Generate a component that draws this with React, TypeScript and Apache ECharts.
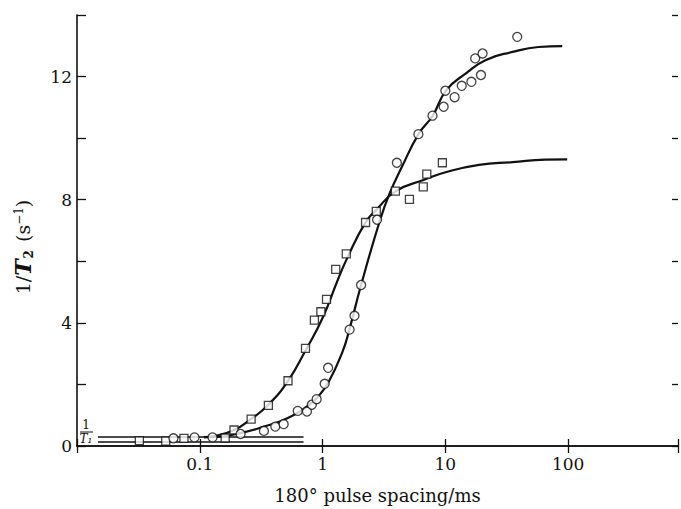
import React, { useEffect, useRef } from "react";
import * as echarts from "echarts";

// pulse spacing (ms), 1/T2 (s^-1)
const squarePoints: [number, number][] = [
  [0.0322, 0.17], [0.0528, 0.16], [0.0743, 0.25], [0.161, 0.26], [0.19, 0.52],
  [0.262, 0.87], [0.362, 1.32], [0.523, 2.12], [0.726, 3.17], [0.858, 4.09],
  [0.969, 4.36], [1.077, 4.76], [1.28, 5.74], [1.56, 6.24], [2.24, 7.26],
  [2.74, 7.62], [3.92, 8.28], [5.1, 8.01], [6.61, 8.42], [7.06, 8.83], [9.46, 9.2],
];
const circlePoints: [number, number][] = [
  [0.061, 0.25], [0.0906, 0.28], [0.127, 0.28], [0.215, 0.39], [0.333, 0.49],
  [0.412, 0.63], [0.482, 0.71], [0.628, 1.14], [0.746, 1.12], [0.818, 1.34],
  [0.895, 1.52], [1.04, 2.02], [1.11, 2.54], [1.66, 3.78], [1.82, 4.23],
  [2.06, 5.23], [2.78, 7.35], [4.03, 9.2], [6.03, 10.13], [7.86, 10.73],
  [9.69, 11.02], [10.0, 11.54], [11.9, 11.33], [13.6, 11.7], [16.3, 11.83],
  [19.5, 12.05], [17.5, 12.59], [20.1, 12.75], [38.5, 13.29],
];
const squareCurve: [number, number][] = [
  [0.108, 0.29], [0.13, 0.32], [0.191, 0.52], [0.262, 0.88], [0.36, 1.33],
  [0.522, 2.11], [0.73, 3.12], [1.0, 4.16], [1.32, 5.36], [1.59, 6.11],
  [2.22, 7.24], [2.78, 7.7], [3.96, 8.28], [6.65, 8.64], [10.2, 8.9],
  [18.8, 9.13], [35.3, 9.22], [65.3, 9.3], [98.2, 9.31],
];
const circleCurve: [number, number][] = [
  [0.108, 0.29], [0.13, 0.29], [0.214, 0.42], [0.328, 0.62], [0.522, 0.91],
  [0.757, 1.3], [0.912, 1.59], [1.12, 2.08], [1.45, 3.05], [1.65, 3.77],
  [2.06, 5.23], [2.94, 7.34], [3.53, 8.22], [4.42, 9.06], [6.05, 10.13],
  [7.86, 10.72], [10.2, 11.56], [14.8, 12.11], [21.4, 12.54], [35.3, 12.8],
  [57.3, 12.96], [89.5, 12.99],
];
const t1Upper: [number, number][] = [[0.0148, 0.29], [0.7, 0.29]];
const t1Lower: [number, number][] = [[0.0148, 0.13], [0.7, 0.13]];

const xTickLabels = [0.1, 1, 10, 100];
const yTickLabels = [0, 4, 8, 12];

const FONT = "DejaVu Serif";

export default function App() {
  const ref = useRef<HTMLDivElement>(null);
  useEffect(() => {
    if (!ref.current) return;
    const chart = echarts.init(ref.current, undefined, { renderer: "svg" });
    const axisLine = { show: true, lineStyle: { color: "#111", width: 1.6 } };
    const lineSeries = (data: [number, number][], w: number, smooth: boolean) => ({
      type: "line",
      data,
      smooth,
      symbol: "none",
      lineStyle: { color: "#111", width: w },
      z: 2,
      silent: true,
    });
    const scatter = (data: [number, number][], symbol: string, size: number) => ({
      type: "scatter",
      data,
      symbol,
      symbolSize: size,
      itemStyle: { color: "#fff", borderColor: "#111", borderWidth: 1.3 },
      z: 3,
    });
    const xTick = { show: true, inside: true, length: 7, lineStyle: { color: "#111", width: 1.3 } };
    chart.setOption({
      animation: false,
      backgroundColor: "#fff",
      grid: { left: 77, right: -3, top: 15, bottom: 63 },
      xAxis: [
        {
          type: "log",
          logBase: 10,
          min: 0.01,
          max: 785,
          position: "bottom",
          axisLine,
          axisTick: xTick,
          splitLine: { show: false },
          minorTick: { show: false },
          axisLabel: {
            color: "#111",
            fontFamily: FONT,
            fontSize: 17,
            margin: 9,
            formatter: (v: number) => {
              const r = Number(Number(v).toPrecision(6));
              return xTickLabels.includes(r) ? String(r) : "";
            },
          },
          name: "180° pulse spacing/ms",
          nameLocation: "middle",
          nameGap: 40,
          nameTextStyle: { color: "#111", fontFamily: FONT, fontSize: 18, padding: [0, 0, 0, 0] },
        },
        {
          type: "log",
          logBase: 10,
          min: 0.01,
          max: 785,
          position: "top",
          axisLine,
          axisTick: xTick,
          axisLabel: { show: false },
          splitLine: { show: false },
        },
      ],
      yAxis: [
        {
          type: "value",
          min: 0,
          max: 14,
          interval: 2,
          position: "left",
          axisLine,
          axisTick: { show: true, inside: true, length: 9, lineStyle: { color: "#111", width: 1.3 } },
          splitLine: { show: false },
          axisLabel: {
            color: "#111",
            fontFamily: FONT,
            fontSize: 17,
            margin: 5,
            formatter: (v: number) => (yTickLabels.includes(v) ? String(v) : ""),
          },
        },
        {
          type: "value",
          min: 0,
          max: 14,
          interval: 2,
          position: "right",
          axisLine: { show: false },
          axisTick: { show: true, inside: true, length: 6, lineStyle: { color: "#111", width: 1.3 } },
          axisLabel: { show: false },
          splitLine: { show: false },
        },
      ],
      graphic: [
        {
          type: "text",
          x: 23,
          y: 247,
          rotation: Math.PI / 2,
          style: {
            text: "{a|1/}{t|T}{s|2}{a| (s}{p|−1}{a|)}",
            align: "center",
            verticalAlign: "middle",
            fill: "#111",
            rich: {
              a: { fontFamily: FONT, fontSize: 19, fill: "#111" },
              t: { fontFamily: FONT, fontSize: 22, fontWeight: "bold", fontStyle: "italic", fill: "#111" },
              s: { fontFamily: FONT, fontSize: 12, fontWeight: "bold", fill: "#111", padding: [11, 2, 0, 1] },
              p: { fontFamily: FONT, fontSize: 12, fill: "#111", padding: [0, 0, 9, 0] },
            },
          },
        },
        {
          type: "text",
          x: 86,
          y: 425,
          style: { text: "1", align: "center", verticalAlign: "middle", fontFamily: FONT, fontSize: 12, fill: "#111" },
        },
        {
          type: "line",
          shape: { x1: 80, y1: 432, x2: 93, y2: 432 },
          style: { stroke: "#111", lineWidth: 1 },
        },
        {
          type: "text",
          x: 86,
          y: 439,
          style: { text: "T₁", align: "center", verticalAlign: "middle", fontFamily: FONT, fontStyle: "italic", fontSize: 12, fill: "#111" },
        },
      ],
      series: [
        lineSeries(t1Upper, 1.5, false),
        lineSeries(t1Lower, 1.5, false),
        lineSeries(squareCurve, 2.2, true),
        lineSeries(circleCurve, 2.2, true),
        scatter(squarePoints, "rect", 8),
        scatter(circlePoints, "circle", 9),
      ],
    });
    return () => chart.dispose();
  }, []);
  return <div ref={ref} style={{ width: 681, height: 509, position: "absolute", left: 0, top: 0 }} />;
}
